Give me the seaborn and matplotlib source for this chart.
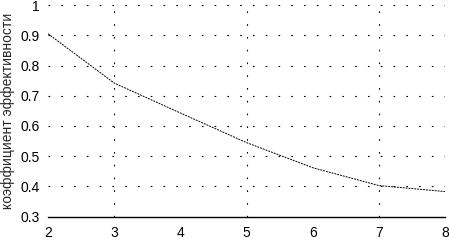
import numpy as np
import pandas as pd
import matplotlib
matplotlib.use("Agg")
import matplotlib.pyplot as plt
import seaborn as sns

sns.set_style("white")
plt.rcParams['font.family'] = ['Liberation Sans', 'DejaVu Sans']

# values
n_values = [2, 3, 4, 5, 6, 7, 8]
koef = [0.905, 0.742, 0.643, 0.545, 0.462, 0.403, 0.383]
y_ticks = [0.3, 0.4, 0.5, 0.6, 0.7, 0.8, 0.9, 1]
y_labels = ["0.3", "0.4", "0.5", "0.6", "0.7", "0.8", "0.9", "1"]

df = pd.DataFrame({"n": n_values, "k": koef})

fig = plt.figure(figsize=(4.49, 2.41), dpi=100)
ax = fig.add_axes([0.107, 0.101, 0.884, 0.878])

sns.lineplot(data=df, x="n", y="k", ax=ax, color="black", linewidth=0.7,
             dashes=False, linestyle=(0, (2, 1)))

# dotted grid: horizontal at every tick, vertical only at 3, 5, 7
for yv in y_ticks[1:]:
    ax.axhline(yv, color="black", linewidth=0.8, linestyle=(0, (1.5, 10)), zorder=0)
for xv in (3, 5, 7):
    ax.axvline(xv, color="black", linewidth=0.8, linestyle=(0, (1.5, 10)), zorder=0)

ax.set_xlim(2, 8)
ax.set_ylim(0.3, 1)
ax.set_xticks(n_values)
ax.set_yticks(y_ticks)
ax.set_yticklabels(y_labels)
ax.tick_params(axis="both", labelsize=10, colors="black", length=3, width=0.8,
               direction="out", pad=3)
ax.tick_params(axis="x", pad=4)

for s in ["top", "right", "left"]:
    ax.spines[s].set_visible(False)
ax.spines["bottom"].set_color("black")
ax.spines["bottom"].set_linewidth(1.0)

ax.set_xlabel("")
ax.set_ylabel("коэффициент эффективности", fontsize=10, labelpad=4)

fig.savefig("out.png", dpi=100)
